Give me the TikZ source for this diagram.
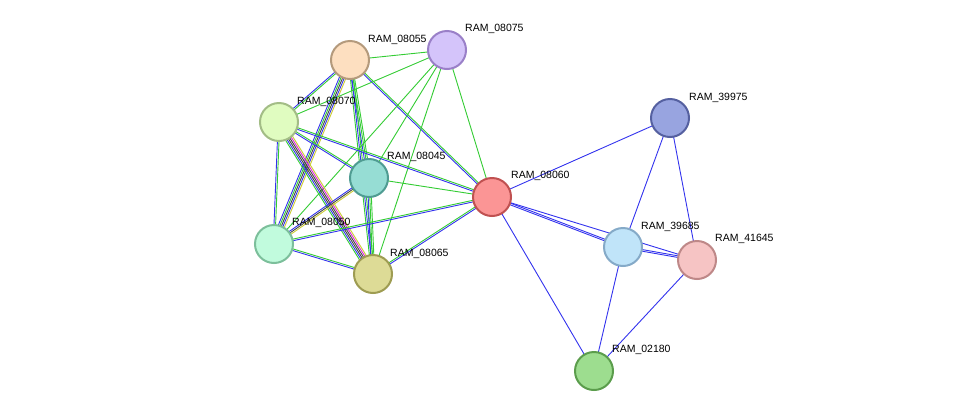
\documentclass[tikz,border=0pt]{standalone}
\usepackage{fontspec}
\setmainfont{Liberation Sans}
\usetikzlibrary{calc}
\pgfdeclarelayer{bg}\pgfsetlayers{bg,main}
\definecolor{eg}{HTML}{33CC33}
\definecolor{eb}{HTML}{3333EE}
\definecolor{ek}{HTML}{444444}
\definecolor{em}{HTML}{DD22DD}
\definecolor{ey}{HTML}{CCCC33}
\newcommand\ed[4]{\foreach \c [count=\i] in {#4} {%
  \pgfmathsetmacro\o{(\i-1-(#3-1)/2)*1.6}%
  \draw[\c,line width=0.9pt] ($(#1)!\o pt!90:(#2)$) -- ($(#2)!\o pt!-90:(#1)$);}}
\begin{document}
\begin{tikzpicture}[x=1pt,y=-1pt,
  nd/.style={circle,minimum size=38pt,line width=2pt,inner sep=0pt},
  lb/.style={anchor=south west,font=\fontsize{10.5}{12}\selectfont,inner sep=0pt}]
\useasboundingbox (0,0) rectangle (975,416);
\node[nd,fill={rgb,255:red,253;green,223;blue,192},draw={rgb,255:red,180;green,154;blue,124}] (a55) at (350,60) {};
\node[nd,fill={rgb,255:red,212;green,196;blue,250},draw={rgb,255:red,154;green,128;blue,200}] (a75) at (447,50) {};
\node[nd,fill={rgb,255:red,224;green,252;blue,192},draw={rgb,255:red,163;green,189;blue,134}] (a70) at (279,122) {};
\node[nd,fill={rgb,255:red,150;green,221;blue,212},draw={rgb,255:red,79;green,156;blue,146}] (a45) at (369,178) {};
\node[nd,fill={rgb,255:red,251;green,149;blue,149},draw={rgb,255:red,192;green,81;blue,81}] (a60) at (492,197) {};
\node[nd,fill={rgb,255:red,193;green,251;blue,221},draw={rgb,255:red,124;green,191;blue,155}] (a50) at (274,244) {};
\node[nd,fill={rgb,255:red,221;green,219;blue,150},draw={rgb,255:red,158;green,156;blue,82}] (a65) at (373,274) {};
\node[nd,fill={rgb,255:red,152;green,164;blue,224},draw={rgb,255:red,85;green,96;blue,160}] (b75) at (670,118) {};
\node[nd,fill={rgb,255:red,192;green,228;blue,249},draw={rgb,255:red,133;green,170;blue,200}] (b85) at (623,247) {};
\node[nd,fill={rgb,255:red,246;green,196;blue,196},draw={rgb,255:red,190;green,136;blue,136}] (b45) at (697,260) {};
\node[nd,fill={rgb,255:red,157;green,221;blue,143},draw={rgb,255:red,91;green,157;blue,76}] (b80) at (594,371) {};
\begin{pgfonlayer}{bg}
\fill[white] (0,0) rectangle (975,416);
\ed{a55}{a75}{1}{eg}
\ed{a55}{a70}{2}{eb,eg}
\ed{a55}{a50}{5}{eb,eg,ek,eb,ey}
\ed{a55}{a45}{3}{eb,eg,eg}
\ed{a55}{a65}{3}{eg,eb,eg}
\ed{a55}{a60}{2}{eb,eg}
\ed{a75}{a70}{1}{eg}
\ed{a75}{a45}{1}{eg}
\ed{a75}{a50}{1}{eg}
\ed{a75}{a65}{1}{eg}
\ed{a75}{a60}{1}{eg}
\ed{a70}{a45}{2}{eb,eg}
\ed{a70}{a60}{2}{eb,eg}
\ed{a70}{a50}{2}{eb,eg}
\ed{a70}{a65}{6}{eg,eb,ek,ek,em,ey}
\ed{a45}{a60}{1}{eg}
\ed{a45}{a50}{3}{eb,ek,ey}
\ed{a45}{a65}{3}{eb,eg,eg}
\ed{a50}{a60}{2}{eb,eg}
\ed{a50}{a65}{2}{eb,eg}
\ed{a65}{a60}{2}{eb,eg}
\ed{a60}{b75}{1}{eb}
\ed{a60}{b85}{2}{eb,eb}
\ed{a60}{b45}{1}{eb}
\ed{a60}{b80}{1}{eb}
\ed{b75}{b85}{1}{eb}
\ed{b75}{b45}{1}{eb}
\ed{b85}{b45}{2}{eb,eb}
\ed{b85}{b80}{1}{eb}
\ed{b45}{b80}{1}{eb}
\end{pgfonlayer}
\node[lb] (l55) at (368,45) {RAM\_08055};
\node[lb] (l75) at (465,34) {RAM\_08075};
\node[lb] (l70) at (297,107) {RAM\_08070};
\node[lb] (l45) at (387,162) {RAM\_08045};
\node[lb] (l60) at (511,181) {RAM\_08060};
\node[lb] (l50) at (292,228) {RAM\_08050};
\node[lb] (l65) at (390,259) {RAM\_08065};
\node[lb] (m75) at (689,103) {RAM\_39975};
\node[lb] (m85) at (641,232) {RAM\_39685};
\node[lb] (m45) at (715,244) {RAM\_41645};
\node[lb] (m80) at (612,355) {RAM\_02180};
\end{tikzpicture}
\end{document}
